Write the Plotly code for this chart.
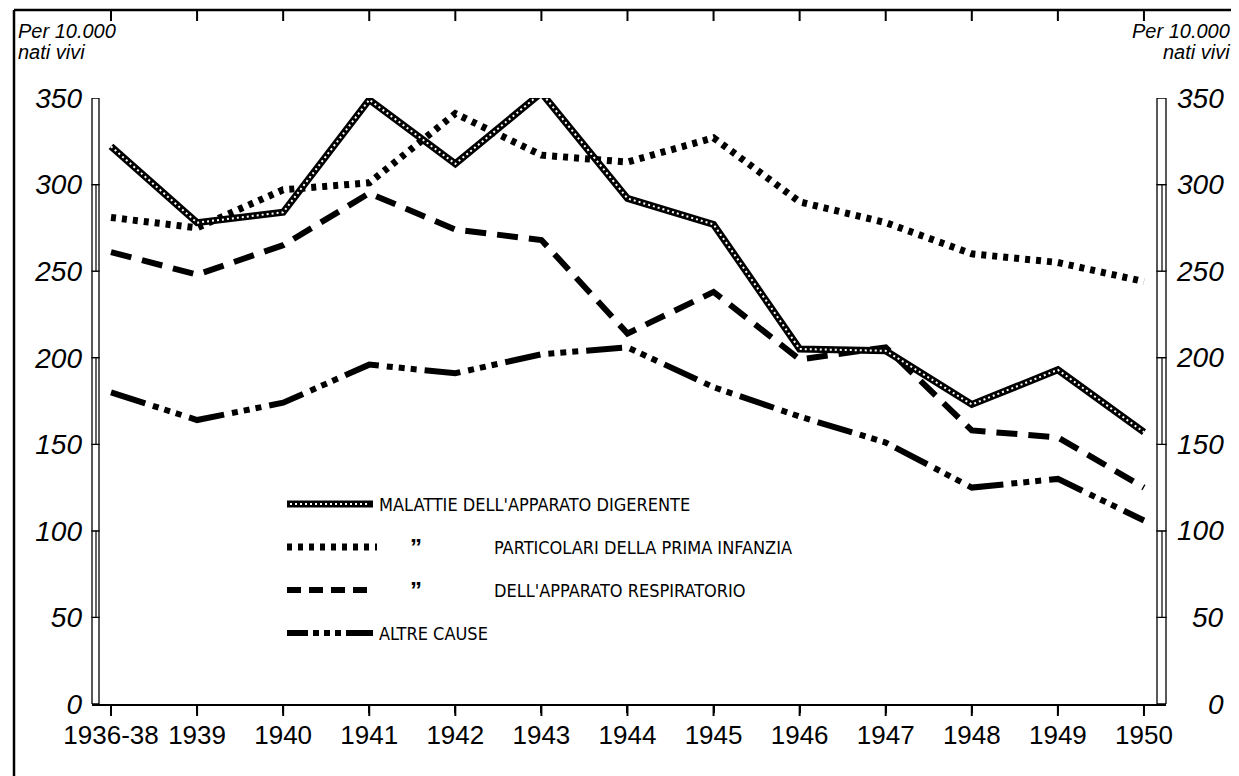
import plotly.graph_objects as go

# ---------------- data ----------------
years = ["1936-38", "1939", "1940", "1941", "1942", "1943", "1944",
         "1945", "1946", "1947", "1948", "1949", "1950"]
digerente = [322, 278, 284, 349, 312, 353, 292, 277, 205, 204, 173, 193, 157]
particolari = [281, 275, 297, 301, 341, 317, 313, 327, 290, 278, 260, 255, 244]
respiratorio = [261, 248, 265, 295, 274, 268, 214, 238, 199, 206, 158, 154, 125]
altre = [180, 164, 174, 196, 191, 202, 206, 183, 166, 151, 125, 130, 106]
y_ticks = [0, 50, 100, 150, 200, 250, 300, 350]
legend_labels = ["MALATTIE DELL'APPARATO DIGERENTE",
                 "PARTICOLARI DELLA PRIMA INFANZIA",
                 "DELL'APPARATO RESPIRATORIO",
                 "ALTRE CAUSE"]
unit_line1 = "Per 10.000"
unit_line2 = "nati vivi"
ditto = "\u201d"

# ---------------- geometry helpers ----------------
# page pixels are converted to figure pixels (the page body has an 8px margin)
OFF = 8
W, H = 1239, 776
L, R, T, B = 92 - OFF, 1166 - OFF, 98 - OFF, 704 - OFF
def px(xp):
    return (xp - OFF - L) / (R - L)
def py(yp):
    return (B - (yp - OFF)) / (B - T)

idx = list(range(len(years)))
xr0 = (92 - 111) / 86.08
xr1 = (1166 - 111) / 86.08

fig = go.Figure()

# altre cause: dash + three dots
fig.add_trace(go.Scatter(x=idx, y=altre, mode="lines",
                         line=dict(color="black", width=6,
                                   dash="36px,8px,6px,6px,6px,6px,6px,8px"),
                         showlegend=False, hoverinfo="skip"))
# respiratorio: dashes
fig.add_trace(go.Scatter(x=idx, y=respiratorio, mode="lines",
                         line=dict(color="black", width=6, dash="21px,11px"),
                         showlegend=False, hoverinfo="skip"))
# particolari: dots
fig.add_trace(go.Scatter(x=idx, y=particolari, mode="lines",
                         line=dict(color="black", width=7, dash="5px,6px"),
                         showlegend=False, hoverinfo="skip"))
# digerente: thick black with white dotted core
fig.add_trace(go.Scatter(x=idx, y=digerente, mode="lines",
                         line=dict(color="black", width=7),
                         showlegend=False, hoverinfo="skip"))
fig.add_trace(go.Scatter(x=idx, y=digerente, mode="lines",
                         line=dict(color="white", width=2, dash="2px,3px"),
                         showlegend=False, hoverinfo="skip"))

shapes = []
annotations = []

# outer frame (top + left)
shapes.append(dict(type="line", xref="paper", yref="paper",
                   x0=px(14), x1=px(14), y0=py(10), y1=py(800),
                   line=dict(color="black", width=2.5)))
shapes.append(dict(type="line", xref="paper", yref="paper",
                   x0=px(14), x1=px(1260), y0=py(10), y1=py(10),
                   line=dict(color="black", width=2.5)))
# top ticks hanging from frame, bottom tick extensions
for i in idx:
    shapes.append(dict(type="line", xref="x", yref="paper",
                       x0=i, x1=i, y0=py(10), y1=py(21),
                       line=dict(color="black", width=2)))
    shapes.append(dict(type="line", xref="x", yref="paper",
                       x0=i, x1=i, y0=py(704), y1=py(716),
                       line=dict(color="black", width=2)))

# scale bars left and right
for (bx0, bx1) in [(92, 99), (1157, 1166)]:
    for k in range(7):
        shapes.append(dict(type="rect", xref="paper", yref="y",
                           x0=px(bx0), x1=px(bx1),
                           y0=y_ticks[k], y1=y_ticks[k + 1],
                           fillcolor="white",
                           line=dict(color="black", width=1.3)))
        if k % 2 == 1:
            cx = (bx0 + bx1) / 2 + 0.5
            shapes.append(dict(type="line", xref="paper", yref="y",
                               x0=px(cx), x1=px(cx),
                               y0=y_ticks[k], y1=y_ticks[k + 1],
                               line=dict(color="black", width=1.2)))

# right axis labels (right-aligned)
for v in y_ticks:
    annotations.append(dict(xref="paper", yref="y", x=px(1226), y=v,
                            text=str(v), showarrow=False,
                            xanchor="right", yanchor="middle",
                            font=dict(family="Liberation Sans", size=28,
                                      style="italic", color="black")))

# unit labels
ufont = dict(family="Liberation Sans", size=20, style="italic", color="black")
annotations += [
    dict(xref="paper", yref="paper", x=px(16), y=py(31), text=unit_line1,
         showarrow=False, xanchor="left", yanchor="middle", font=ufont),
    dict(xref="paper", yref="paper", x=px(16), y=py(52), text=unit_line2,
         showarrow=False, xanchor="left", yanchor="middle", font=ufont),
    dict(xref="paper", yref="paper", x=px(1232), y=py(31), text=unit_line1,
         showarrow=False, xanchor="right", yanchor="middle", font=ufont),
    dict(xref="paper", yref="paper", x=px(1232), y=py(52), text=unit_line2,
         showarrow=False, xanchor="right", yanchor="middle", font=ufont),
]

# legend
rows = [504, 547, 590, 633]
sx0, sx1 = 287, 373
lfont = dict(family="DejaVu Sans Condensed, Liberation Sans", size=18,
             color="black")
dfont = dict(family="Liberation Sans", size=24, weight="bold", color="black")
# row 1 sample
shapes.append(dict(type="line", xref="paper", yref="paper",
                   x0=px(sx0), x1=px(sx1), y0=py(rows[0]), y1=py(rows[0]),
                   line=dict(color="black", width=7)))
shapes.append(dict(type="line", xref="paper", yref="paper",
                   x0=px(sx0 + 3), x1=px(sx1 - 3), y0=py(rows[0]), y1=py(rows[0]),
                   line=dict(color="white", width=2, dash="2px,3px")))
# row 2 sample
shapes.append(dict(type="line", xref="paper", yref="paper",
                   x0=px(sx0), x1=px(sx1 + 4), y0=py(rows[1]), y1=py(rows[1]),
                   line=dict(color="black", width=7, dash="5px,6px")))
# row 3 sample
shapes.append(dict(type="line", xref="paper", yref="paper",
                   x0=px(sx0), x1=px(sx1 + 2), y0=py(rows[2]), y1=py(rows[2]),
                   line=dict(color="black", width=6, dash="14px,8px")))
# row 4 sample
shapes.append(dict(type="line", xref="paper", yref="paper",
                   x0=px(sx0), x1=px(sx1), y0=py(rows[3]), y1=py(rows[3]),
                   line=dict(color="black", width=6,
                             dash="21px,5px,6px,5px,6px,5px,6px,5px,30px")))

annotations += [
    dict(xref="paper", yref="paper", x=px(377), y=py(rows[0]),
         text=legend_labels[0], showarrow=False, xanchor="left",
         yanchor="middle", font=lfont),
    dict(xref="paper", yref="paper", x=px(408), y=py(rows[1]),
         text=ditto, showarrow=False, xanchor="left",
         yanchor="middle", font=dfont),
    dict(xref="paper", yref="paper", x=px(492), y=py(rows[1]),
         text=legend_labels[1], showarrow=False, xanchor="left",
         yanchor="middle", font=lfont),
    dict(xref="paper", yref="paper", x=px(408), y=py(rows[2]),
         text=ditto, showarrow=False, xanchor="left",
         yanchor="middle", font=dfont),
    dict(xref="paper", yref="paper", x=px(492), y=py(rows[2]),
         text=legend_labels[2], showarrow=False, xanchor="left",
         yanchor="middle", font=lfont),
    dict(xref="paper", yref="paper", x=px(377), y=py(rows[3]),
         text=legend_labels[3], showarrow=False, xanchor="left",
         yanchor="middle", font=lfont),
]

fig.update_layout(
    width=W, height=H,
    margin=dict(l=L, r=W - R, t=T, b=H - B, pad=0),
    paper_bgcolor="white", plot_bgcolor="white",
    showlegend=False,
    shapes=shapes, annotations=annotations,
    xaxis=dict(range=[xr0, xr1], tickmode="array", tickvals=idx,
               ticktext=years, showgrid=False, zeroline=False,
               showline=True, linecolor="black", linewidth=2,
               ticks="outside", ticklen=7, tickwidth=2, tickcolor="black",
               tickangle=0, automargin=False,
               tickfont=dict(family="Liberation Sans", size=26, color="black")),
    yaxis=dict(range=[0, 350], tickmode="array", tickvals=y_ticks,
               ticktext=[str(v) for v in y_ticks],
               showgrid=False, zeroline=False, showline=False,
               ticks="", ticklabelstandoff=9, automargin=False,
               tickfont=dict(family="Liberation Sans", size=28,
                             style="italic", color="black")),
)

fig.write_html("out.html")
